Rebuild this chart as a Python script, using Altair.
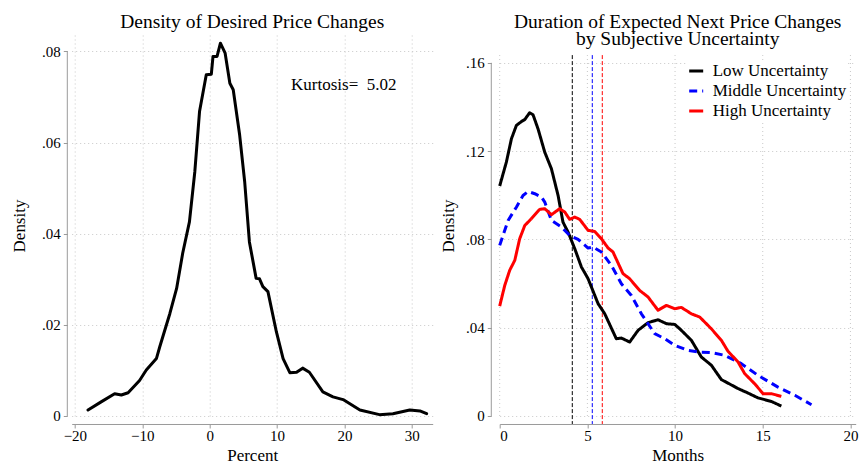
import altair as alt
import pandas as pd

FONT = "Liberation Serif"

# ---- Left panel: kernel density of desired price changes (percent) ----
pct_x = [-18.05, -16.1, -14.1, -13.1, -12.1, -10.4, -9.4, -7.9, -7.4, -5.9,
         -4.9, -4.0, -3.0, -2.2, -1.5, -0.5, 0.25, 0.5, 1.1, 1.6,
         2.3, 3.0, 3.5, 4.45, 5.2, 5.9, 6.9, 7.4, 7.9, 8.65,
         9.9, 10.9, 11.9, 12.9, 13.8, 14.8, 16.8, 18.3, 19.8, 22.3,
         25.2, 27.2, 29.7, 31.2, 32.2]
pct_density = [0.0013, 0.0031, 0.0049, 0.0046, 0.0051, 0.0078, 0.0101, 0.0126, 0.0152, 0.0225,
               0.0280, 0.0357, 0.0426, 0.0536, 0.0668, 0.0749, 0.0750, 0.0789, 0.0789, 0.0818,
               0.0796, 0.0730, 0.0716, 0.0617, 0.0514, 0.0382, 0.0302, 0.0301, 0.0284, 0.0273,
               0.0185, 0.0126, 0.0095, 0.0096, 0.0105, 0.0096, 0.0053, 0.0042, 0.0036, 0.0013,
               0.0003, 0.0005, 0.0013, 0.0011, 0.0005]
kurtosis_label = "Kurtosis=\u00a0\u00a05.02"
pct_ticks = [-20, -10, 0, 10, 20, 30]
pct_density_ticks = [0, 0.02, 0.04, 0.06, 0.08]

# ---- Right panel: duration of expected next price change (months) ----
groups = ["Low Uncertainty", "Middle Uncertainty", "High Uncertainty"]

low_months = [0, 0.38, 0.67, 0.95, 1.24, 1.43, 1.71, 1.9, 2.19, 2.57,
              2.95, 3.33, 3.61, 3.9, 4.28, 4.66, 5.04, 5.61, 5.99, 6.65,
              6.94, 7.41, 7.89, 8.46, 9.03, 9.51, 9.98, 10.27, 10.93, 11.5,
              12.07, 12.64, 13.6, 14.16, 14.73, 15.49, 16.06]
low_density = [0.1042, 0.115, 0.1256, 0.1316, 0.1334, 0.1343, 0.1374, 0.1365, 0.130, 0.1195,
               0.112, 0.0999, 0.0878, 0.0833, 0.0758, 0.0675, 0.0622, 0.0509, 0.0463, 0.035,
               0.0353, 0.0335, 0.0388, 0.0423, 0.0436, 0.0418, 0.0415, 0.0395, 0.0343, 0.0267,
               0.023, 0.0165, 0.0124, 0.0104, 0.0082, 0.0066, 0.0045]

mid_months = [0, 0.48, 0.95, 1.33, 1.62, 2.0, 2.38, 2.57, 2.95, 3.52,
              3.99, 4.47, 5.04, 5.32, 5.8, 6.37, 6.94, 7.51, 8.08, 8.84,
              9.41, 9.98, 10.74, 11.31, 12.07, 12.83, 13.78, 14.73, 15.87, 16.83,
              17.78]
mid_density = [0.0773, 0.0886, 0.0946, 0.0999, 0.1017, 0.1007, 0.0992, 0.0969, 0.0886, 0.0856,
               0.0818, 0.080, 0.0761, 0.0765, 0.0743, 0.0682, 0.0599, 0.0546, 0.0463, 0.0373,
               0.035, 0.032, 0.0297, 0.029, 0.0287, 0.0275, 0.0237, 0.0184, 0.0131, 0.0094,
               0.0051]

high_months = [0, 0.29, 0.57, 0.86, 1.14, 1.43, 1.81, 2.28, 2.57, 2.95,
               3.42, 3.71, 3.99, 4.28, 4.56, 5.04, 5.42, 5.8, 6.18, 6.46,
               7.03, 7.41, 7.98, 8.46, 9.03, 9.51, 9.98, 10.36, 10.93, 11.41,
               12.07, 12.64, 13.02, 13.59, 13.97, 14.54, 15.02, 15.49, 16.06]
high_density = [0.0498, 0.0592, 0.066, 0.0705, 0.0803, 0.0863, 0.0894, 0.0936, 0.0939, 0.0912,
                0.0939, 0.0924, 0.0891, 0.0901, 0.0891, 0.0841, 0.0836, 0.0803, 0.0761, 0.0743,
                0.0645, 0.0622, 0.0569, 0.0539, 0.0479, 0.0501, 0.0486, 0.0492, 0.0463, 0.0448,
                0.0395, 0.0343, 0.0293, 0.0245, 0.0192, 0.0146, 0.0101, 0.0101, 0.0089]

# mean expected duration per group (vertical reference lines)
group_means = [4.14, 5.28, 5.85]
month_ticks = [0, 5, 10, 15, 20]
month_density_ticks = [0, 0.04, 0.08, 0.12, 0.16]

line_colors = ["#000000", "#0000ff", "#ff0000"]
line_dashes = [[1, 0], [8, 5], [1, 0]]

AXIS_GREY = "#9a9a9a"
GRID_GREY = "#c8c8c8"
GRID_DASH = [1, 3]
stata_label = "datum.value == 0 ? '0' : replace(format(datum.value, '.2f'), '0.', '.')"

# ---------------- left panel ----------------
left_df = pd.DataFrame({"Percent": pct_x, "Density": pct_density})
x_left = alt.Scale(domain=[-20.47, 33.1], nice=False, zero=False)
y_left = alt.Scale(domain=[0, 0.0836], nice=False, zero=False)

left_curve = alt.Chart(left_df).mark_line(
    color="black", strokeWidth=3, strokeJoin="round", strokeCap="round"
).encode(
    x=alt.X("Percent:Q", scale=x_left,
            axis=alt.Axis(values=pct_ticks, format="d", title="Percent",
                          offset=8, tickSize=4, labelPadding=1, titlePadding=4)),
    y=alt.Y("Density:Q", scale=y_left,
            axis=alt.Axis(values=pct_density_ticks, labelExpr=stata_label, title="Density",
                          domain=False, offset=4.4, tickSize=4, labelPadding=3,
                          titlePadding=13.3)),
)

left_axis_line = alt.Chart(pd.DataFrame({"k": [0]})).mark_rule(
    color=AXIS_GREY, strokeWidth=1
).encode(
    x=alt.value(-4.4),
    y=alt.datum(0, scale=y_left),
    y2=alt.datum(0.08),
)

kurtosis_text = alt.Chart(pd.DataFrame({"k": [0]})).mark_text(
    font=FONT, fontSize=17, color="black", align="center", baseline="middle"
).encode(
    x=alt.datum(19.9),
    y=alt.datum(0.0727),
    text=alt.value(kurtosis_label),
)

left_panel = alt.layer(left_axis_line, left_curve, kurtosis_text).properties(
    width=361, height=381,
    title=alt.TitleParams("Density of Desired Price Changes", frame="group", offset=3),
)

# ---------------- right panel ----------------
rows = []
for g, xs, ys in [(groups[0], low_months, low_density),
                  (groups[1], mid_months, mid_density),
                  (groups[2], high_months, high_density)]:
    for xv, yv in zip(xs, ys):
        rows.append({"Months": xv, "Density": yv, "Group": g})
right_df = pd.DataFrame(rows)
means_df = pd.DataFrame({"Group": groups, "Mean": group_means})
month_grid_df = pd.DataFrame({"Months": month_ticks})

# right plot shares the left plot's height; its data region tops out at 0.1635
RIGHT_TOP = 0.1635
x_right = alt.Scale(domain=[0, 20.3], nice=False, zero=False)
y_right = alt.Scale(domain=[0, 0.1726], nice=False, zero=False)
color_scale = alt.Scale(domain=groups, range=line_colors)
dash_scale = alt.Scale(domain=groups, range=line_dashes)

# legend sits inside the right plot, top-right corner
legend = alt.Legend(
    title=None, orient="none", legendX=615, legendY=26.5, direction="vertical",
    symbolType="stroke", symbolSize=196, symbolStrokeWidth=3,
    labelFont=FONT, labelFontSize=17, labelColor="black", labelOffset=8,
    rowPadding=2, padding=1, fillColor="white", strokeColor=None,
)

month_grid = alt.Chart(month_grid_df).mark_rule(
    color=GRID_GREY, strokeWidth=1, strokeDash=GRID_DASH
).encode(
    x=alt.X("Months:Q", scale=x_right),
    y=alt.datum(0, scale=y_right),
    y2=alt.datum(RIGHT_TOP),
)

mean_rules = alt.Chart(means_df).mark_rule(strokeWidth=1, strokeDash=[4, 2]).encode(
    x=alt.X("Mean:Q", scale=x_right),
    y=alt.datum(RIGHT_TOP, scale=y_right),
    y2=alt.value(389),
    stroke=alt.Stroke("Group:N", scale=color_scale, legend=legend),
)

right_axis_line = alt.Chart(pd.DataFrame({"k": [0]})).mark_rule(
    color=AXIS_GREY, strokeWidth=1
).encode(
    x=alt.value(-8.4),
    y=alt.datum(0, scale=y_right),
    y2=alt.datum(0.16),
)

right_curves = alt.Chart(right_df).mark_line(
    strokeWidth=3, strokeJoin="round"
).encode(
    x=alt.X("Months:Q", scale=x_right,
            axis=alt.Axis(values=month_ticks, format="d", title="Months", grid=False,
                          offset=8, tickSize=4, labelPadding=1, titlePadding=4)),
    y=alt.Y("Density:Q", scale=y_right,
            axis=alt.Axis(values=month_density_ticks, labelExpr=stata_label, title="Density",
                          domain=False, offset=8.4, tickSize=4, labelPadding=3,
                          titlePadding=8)),
    stroke=alt.Stroke("Group:N", scale=color_scale, legend=legend),
    strokeDash=alt.StrokeDash("Group:N", scale=dash_scale, legend=legend),
    order=alt.Order("Months:Q"),
)

right_panel = alt.layer(month_grid, right_axis_line, mean_rules, right_curves).properties(
    width=356, height=381,
    title=alt.TitleParams(["Duration of Expected Next Price Changes",
                           "by Subjective Uncertainty"],
                          frame="group", offset=-14, lineHeight=17),
)

chart = alt.hconcat(left_panel, right_panel, spacing=6).properties(
    padding={"left": 9.7, "top": 11, "right": 0, "bottom": 0},
    background="white",
).configure_view(
    stroke=None
).configure_axis(
    labelFont=FONT, labelFontSize=15, labelColor="black",
    titleFont=FONT, titleFontSize=17, titleFontWeight="normal", titleColor="black",
    domainColor=AXIS_GREY, tickColor=AXIS_GREY, domainWidth=1, tickWidth=1,
    grid=True, gridColor=GRID_GREY, gridDash=GRID_DASH, gridWidth=1,
).configure_title(
    font=FONT, fontSize=19.5, fontWeight="normal", color="black", anchor="middle",
)

chart.save("out.html", embed_options={"renderer": "svg", "actions": False})
